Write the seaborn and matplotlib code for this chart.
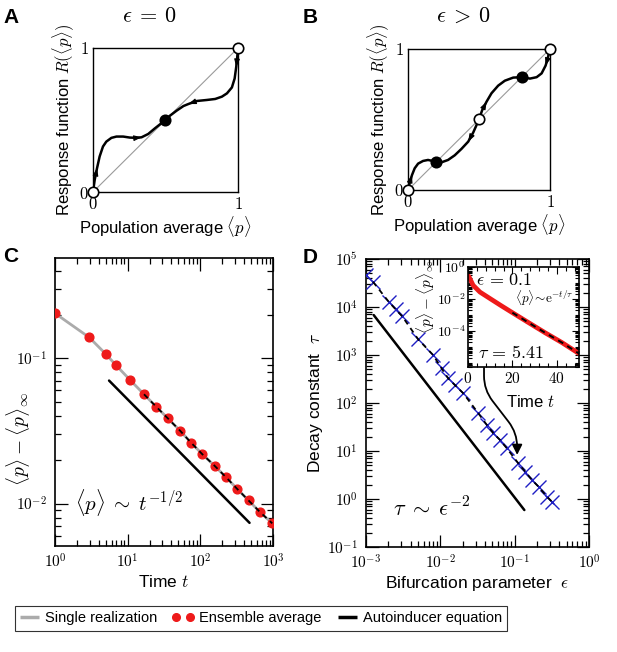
import numpy as np
import matplotlib
matplotlib.use("Agg")
import matplotlib.pyplot as plt
import matplotlib.ticker as mtick
from matplotlib.lines import Line2D
from matplotlib.legend_handler import HandlerLine2D
import seaborn as sns

# ---------------- values ----------------
# A: response function for eps = 0
a_p = [0.0, 0.012, 0.028, 0.046, 0.069, 0.092, 0.127, 0.162, 0.208, 0.254, 0.300,
       0.335, 0.381, 0.427, 0.5, 0.531, 0.577, 0.624, 0.658, 0.716, 0.785, 0.843,
       0.889, 0.924, 0.958, 0.977, 0.988, 0.995, 1.0]
a_R = [0.0, 0.085, 0.166, 0.247, 0.316, 0.350, 0.376, 0.385, 0.385, 0.378, 0.376,
       0.380, 0.403, 0.442, 0.5, 0.530, 0.565, 0.597, 0.611, 0.632, 0.639, 0.646,
       0.662, 0.685, 0.726, 0.788, 0.869, 0.938, 1.0]
a_fixed = [0.0, 0.5, 1.0]
a_stable = [False, True, False]

# B: response function for eps > 0
b_p = [0.0, 0.014, 0.028, 0.047, 0.071, 0.106, 0.141, 0.2, 0.235, 0.282, 0.329,
       0.376, 0.424, 0.459, 0.5, 0.522, 0.553, 0.588, 0.635, 0.682, 0.741, 0.8,
       0.859, 0.906, 0.941, 0.969, 0.984, 1.0]
b_R = [0.0, 0.059, 0.106, 0.154, 0.187, 0.206, 0.213, 0.2, 0.196, 0.213, 0.246,
       0.291, 0.343, 0.407, 0.5, 0.565, 0.626, 0.686, 0.740, 0.775, 0.797, 0.8,
       0.790, 0.800, 0.827, 0.882, 0.934, 1.0]
b_fixed = [0.0, 0.2, 0.5, 0.8, 1.0]
b_stable = [False, True, False, True, False]

# C: relaxation at eps = 0
c_t = [1.0, 2.97, 4.99, 6.93, 10.9, 16.8, 24.7, 35.7, 52.7, 74.8, 107, 157,
       225, 322, 461, 668, 978]
c_dev = [0.204, 0.139, 0.107, 0.0895, 0.0705, 0.0565, 0.0464, 0.0386, 0.0317,
         0.0262, 0.0218, 0.0182, 0.0152, 0.0126, 0.0105, 0.0087, 0.0073]
c_ref_t = [5.55, 476]
c_ref_dev = [0.0702, 0.00736]

# D: decay constant vs bifurcation parameter
d_eps = [1.01e-3, 1.24e-3, 2.02e-3, 2.51e-3, 3.06e-3, 5.04e-3, 8.0e-3, 0.0104,
         0.0128, 0.0157, 0.0204, 0.0325, 0.0422, 0.0518, 0.0637, 0.0785, 0.1125,
         0.139, 0.171, 0.21, 0.272, 0.318]
d_tau = [46400, 33600, 12900, 8900, 6450, 2120, 1000, 526, 325, 237, 159, 61,
         35, 23.4, 17, 11.4, 5.5, 3.7, 2.49, 1.8, 1.12, 0.88]
d_ref_eps = [1.27e-3, 0.135]
d_ref_tau = [6800, 0.59]

# D inset: eps = 0.1 relaxation
in_t = [0.3, 2.3, 5.4, 10, 14.6, 20, 26.9, 34.6, 42.3, 50]
in_dev = [0.27, 0.072, 0.027, 0.0105, 0.0041, 1.4e-3, 3.6e-4, 8e-5, 1.9e-5, 3.9e-6]

GREY = "#ababab"
RED = "#ee1a1a"
BLUE = "#1f1fc4"

sns.set_theme(context="paper", style="ticks")
plt.rcParams.update({
    "font.family": ["Liberation Sans", "DejaVu Sans"],
    "mathtext.fontset": "cm",
    "axes.edgecolor": "black",
    "axes.linewidth": 1.0,
    "xtick.color": "black",
    "ytick.color": "black",
    "text.color": "black",
    "axes.labelcolor": "black",
    "figure.facecolor": "white",
    "axes.facecolor": "white",
})


def pow10(v, _):
    return rf"$10^{{{int(round(np.log10(v)))}}}$"


def log_ticks(ax, major=9, minor=4, lsize=11):
    ax.tick_params(which="both", direction="in", top=True, right=True,
                   width=0.9, labelsize=lsize)
    ax.tick_params(which="major", length=major)
    ax.tick_params(which="minor", length=minor)
    ax.tick_params(axis="y", pad=6)
    ax.tick_params(axis="x", pad=5)
    for s in ax.spines.values():
        s.set_linewidth(1.2)


def response_panel(ax, p, R, fixed, stable, arrows):
    ax.plot([0, 1], [0, 1], color="#9a9a9a", lw=0.8, zorder=1)
    sns.lineplot(x=p, y=R, ax=ax, color="black", lw=1.8, sort=False,
                 estimator=None, zorder=2)
    for i, d in arrows:
        ax.annotate("", xy=(p[i], R[i]), xytext=(p[i - d], R[i - d]),
                    arrowprops=dict(arrowstyle="-|>,head_length=0.6,head_width=0.22",
                                    color="black", lw=0.8, shrinkA=0, shrinkB=0,
                                    mutation_scale=7.5), zorder=3)
    for f, st in zip(fixed, stable):
        ax.plot(f, f, "o", ms=7.5, mfc="black" if st else "white", mec="black",
                mew=1.2, clip_on=False, zorder=5)
    ax.set_xlim(0, 1)
    ax.set_ylim(0, 1)
    ax.set_xticks([0, 1])
    ax.set_yticks([0, 1])
    ax.set_xticklabels(["$0$", "$1$"])
    ax.set_yticklabels(["$0$", "$1$"])
    ax.tick_params(length=0, labelsize=12, pad=3)
    ax.set_xlabel(r"Population average $\langle p\rangle$", fontsize=12, labelpad=1)
    ax.set_ylabel(r"Response function $R(\langle p\rangle)$", fontsize=12, labelpad=2)


fig = plt.figure(figsize=(6.17, 6.52), dpi=100)

# ---- A ----
axA = fig.add_axes([0.1507, 0.7055, 0.235, 0.2209])
response_panel(axA, a_p, a_R, a_fixed, a_stable, [(2, 1), (11, 1), (18, -1), (26, -1)])
# ---- B ----
axB = fig.add_axes([0.6613, 0.7086, 0.2301, 0.2163])
response_panel(axB, b_p, b_R, b_fixed, b_stable, [(2, 1), (12, -1), (16, 1), (25, -1)])

fig.text(149.5 / 617, 1 - 16 / 652, r"$\epsilon\:=\:0$", ha="center", va="center", fontsize=16)
fig.text(463.5 / 617, 1 - 16 / 652, r"$\epsilon\:>\:0$", ha="center", va="center", fontsize=16)

# ---- C ----
axC = fig.add_axes([0.0891, 0.1626, 0.3533, 0.4417])
axC.set_xscale("log")
axC.set_yscale("log")
sns.lineplot(x=c_t, y=c_dev, ax=axC, color=GREY, lw=2.0, estimator=None, zorder=2)
axC.plot(c_t, c_dev, "o", color=RED, mec=RED, ms=6.3, zorder=3)
axC.plot(c_t[5:], c_dev[5:], color="black", lw=1.3, ls=(0, (3, 2.5)), zorder=4)
axC.plot(c_ref_t, c_ref_dev, color="black", lw=1.8, zorder=4)
axC.set_xlim(1, 1e3)
axC.set_ylim(5.1e-3, 0.49)
log_ticks(axC)
axC.xaxis.set_major_formatter(mtick.FuncFormatter(pow10))
axC.yaxis.set_major_formatter(mtick.FuncFormatter(pow10))
axC.xaxis.set_minor_formatter(mtick.NullFormatter())
axC.yaxis.set_minor_formatter(mtick.NullFormatter())
axC.set_xlabel(r"Time $t$", fontsize=12.5, labelpad=2)
axC.set_ylabel(r"$\langle p\rangle - \langle p\rangle_\infty$", fontsize=14)
axC.yaxis.set_label_coords(-0.105, 0.37)
axC.text(0.09, 0.15, r"$\langle p\rangle\;\sim\;t^{-1/2}$", transform=axC.transAxes,
         fontsize=15, va="center")

# ---- D ----
axD = fig.add_axes([0.5932, 0.161, 0.3614, 0.4417])
axD.set_xscale("log")
axD.set_yscale("log")
axD.plot(d_eps, d_tau, "x", color=BLUE, ms=10, mew=1.0, zorder=3)
sns.lineplot(x=d_eps[1:], y=d_tau[1:], ax=axD, color="black", lw=1.3,
             linestyle=(0, (3, 2.5)), estimator=None, zorder=4)
axD.plot(d_ref_eps, d_ref_tau, color="black", lw=1.8, zorder=4)
axD.set_xlim(1e-3, 1)
axD.set_ylim(0.1, 1e5)
log_ticks(axD)
axD.xaxis.set_major_locator(mtick.LogLocator(base=10, numticks=20))
axD.yaxis.set_major_locator(mtick.LogLocator(base=10, numticks=20))
axD.xaxis.set_major_formatter(mtick.FuncFormatter(pow10))
axD.yaxis.set_major_formatter(mtick.FuncFormatter(pow10))
axD.xaxis.set_minor_formatter(mtick.NullFormatter())
axD.yaxis.set_minor_formatter(mtick.NullFormatter())
axD.set_xlabel(r"Bifurcation parameter  $\epsilon$", fontsize=12.5, labelpad=1)
axD.set_ylabel(r"Decay constant  $\tau$", fontsize=12.5, labelpad=1)
axD.text(0.12, 0.13, r"$\tau\;\sim\;\epsilon^{-2}$", transform=axD.transAxes,
         fontsize=16, va="center")

# ---- inset ----
axI = fig.add_axes([0.7585, 0.4371, 0.1799, 0.1534])
axI.set_yscale("log")
sns.lineplot(x=in_t, y=in_dev, ax=axI, color=RED, lw=3.4, estimator=None, zorder=2)
axI.plot(in_t[5:], in_dev[5:], color="black", lw=1.4, ls=(0, (3, 2.5)), zorder=3)
axI.set_xlim(0, 50)
axI.set_ylim(10 ** -6.25, 1)
axI.tick_params(which="both", direction="in", top=True, right=True, width=0.8)
axI.tick_params(which="major", length=5, labelsize=11, pad=3)
axI.tick_params(which="minor", length=3)
axI.tick_params(axis="y", labelsize=10, pad=2)
axI.xaxis.set_major_locator(mtick.MultipleLocator(20))
axI.xaxis.set_minor_locator(mtick.AutoMinorLocator(5))
axI.yaxis.set_major_locator(mtick.FixedLocator([1, 1e-2, 1e-4]))
axI.yaxis.set_minor_locator(mtick.LogLocator(base=10, subs=np.arange(1, 10) * 1.0, numticks=100))
axI.yaxis.set_major_formatter(mtick.FuncFormatter(pow10))
axI.yaxis.set_minor_formatter(mtick.NullFormatter())
axI.xaxis.set_major_formatter(mtick.FuncFormatter(lambda v, _: f"${v:.0f}$"))
for s in axI.spines.values():
    s.set_linewidth(1.2)
axI.set_xlabel(r"Time $t$", fontsize=12, labelpad=1)
axI.xaxis.set_label_coords(0.56, -0.27)
axI.set_ylabel(r"$\langle p\rangle - \langle p\rangle_\infty$", fontsize=11)
axI.yaxis.set_label_coords(-0.275, 0.7)
axI.text(0.075, 0.86, r"$\epsilon\,=\,0.1$", transform=axI.transAxes, fontsize=13, va="center")
axI.text(0.42, 0.69, r"$\langle p\rangle\!\sim\!\mathrm{e}^{-t/\tau}$", transform=axI.transAxes,
         fontsize=9.5, va="center", ha="left")
axI.text(0.09, 0.135, r"$\tau\,=\,5.41$", transform=axI.transAxes, fontsize=13, va="center")

# curved arrow from tau label to the eps = 0.1 point
axD.annotate("", xy=(0.108, 8.3), xytext=(0.0387, 540),
             arrowprops=dict(arrowstyle="-|>,head_length=0.6,head_width=0.3",
                             connectionstyle="arc,angleA=-90,angleB=90,armA=22,armB=22,rad=14",
                             color="black", lw=1.3, shrinkA=0, shrinkB=0,
                             mutation_scale=10), zorder=6)

# panel letters
for lab, x, y in [("A", 3, 8), ("B", 303, 8), ("C", 3, 247), ("D", 303, 248)]:
    fig.text(x / 617, 1 - y / 652, lab, fontsize=15, fontweight="bold", va="top", ha="left")

# shared legend
h_single = Line2D([], [], color=GREY, lw=2.5, solid_capstyle="butt")
h_ens = Line2D([], [], color=RED, marker="o", ls="none", ms=5.5)
h_auto = Line2D([], [], color="black", lw=2.5, solid_capstyle="butt")
labels = ["Single realization", "Ensemble average", "Autoinducer equation"]
leg = fig.legend([h_single, h_ens, h_auto], labels, loc="center",
                 bbox_to_anchor=(261 / 617, 0.0514), ncol=3,
                 frameon=True, fancybox=False, edgecolor="black", fontsize=10.5,
                 handler_map={h_ens: HandlerLine2D(numpoints=2, marker_pad=0.15)},
                 handlelength=1.3, handletextpad=0.45, columnspacing=1.1,
                 borderpad=0.35, borderaxespad=0)
leg.get_frame().set_linewidth(0.8)

fig.savefig("out.png", dpi=100)
